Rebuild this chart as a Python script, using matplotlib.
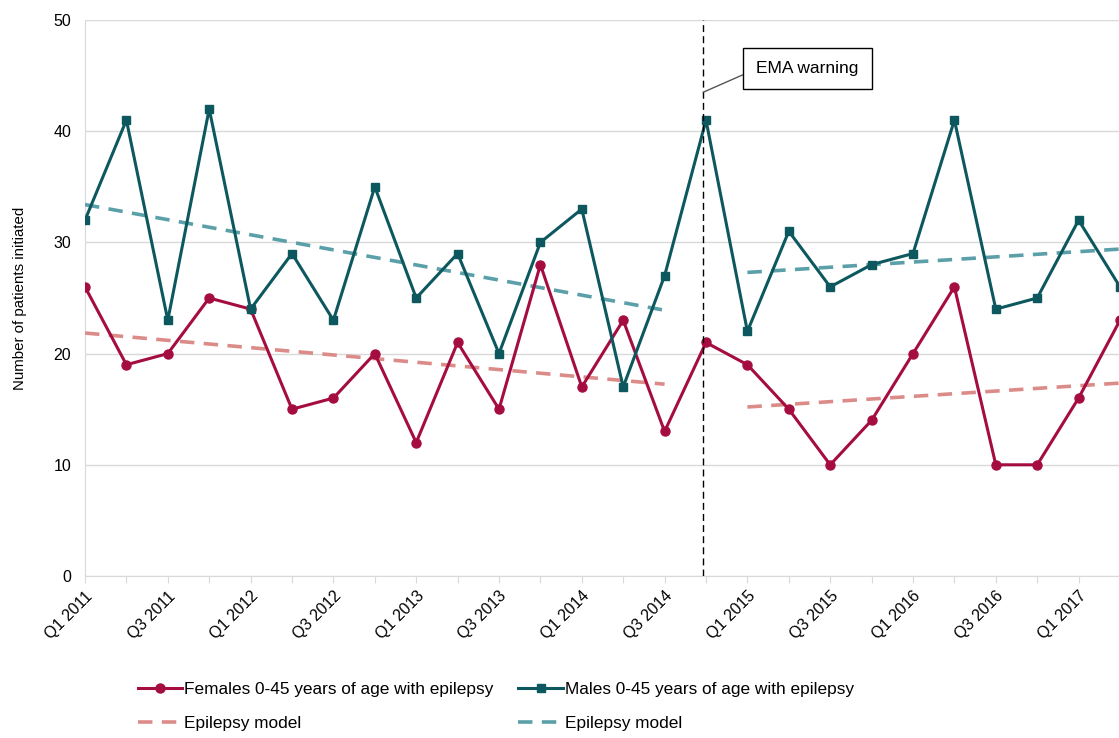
import numpy as np
import matplotlib.pyplot as plt

plt.rcParams['font.family'] = ['Liberation Sans', 'DejaVu Sans']

quarters = ['Q1 2011', 'Q2 2011', 'Q3 2011', 'Q4 2011',
            'Q1 2012', 'Q2 2012', 'Q3 2012', 'Q4 2012',
            'Q1 2013', 'Q2 2013', 'Q3 2013', 'Q4 2013',
            'Q1 2014', 'Q2 2014', 'Q3 2014', 'Q4 2014',
            'Q1 2015', 'Q2 2015', 'Q3 2015', 'Q4 2015',
            'Q1 2016', 'Q2 2016', 'Q3 2016', 'Q4 2016',
            'Q1 2017', 'Q2 2017']
females = [26, 19, 20, 25, 24, 15, 16, 20, 12, 21, 15, 28, 17, 23, 13,
           21, 19, 15, 10, 14, 20, 26, 10, 10, 16, 23]
males = [32, 41, 23, 42, 24, 29, 23, 35, 25, 29, 20, 30, 33, 17, 27,
         41, 22, 31, 26, 28, 29, 41, 24, 25, 32, 26]

# model lines: (start quarter, end quarter) and the values at the ends
model_pre = ['Q1 2011', 'Q3 2014']
model_post = ['Q1 2015', 'Q2 2017']
fem_model_pre = [21.85, 17.25]
fem_model_post = [15.2, 17.35]
male_model_pre = [33.4, 23.9]
male_model_post = [27.3, 29.4]

warning_q = 'Q4 2014'

c_fem = '#A50D40'
c_male = '#0D585E'
c_fem_mod = '#DC8C88'
c_male_mod = '#5BA0A9'
grid_c = '#D9D9D9'

x = np.arange(len(quarters))
pos = {q: i for i, q in enumerate(quarters)}

fig = plt.figure(figsize=(11.19, 7.38), dpi=100)
ax = fig.add_axes([85 / 1119, 162 / 738, 1035 / 1119, 556 / 738])

ax.plot(x, females, color=c_fem, lw=2.2, marker='o', ms=6.5, zorder=4,
        label='Females 0-45 years of age with epilepsy')
ax.plot(x, males, color=c_male, lw=2.2, marker='s', ms=6, zorder=4,
        label='Males 0-45 years of age with epilepsy')

fx = [pos[q] for q in model_pre]
gx = [pos[q] for q in model_post]
ax.plot(fx, fem_model_pre, color=c_fem_mod, lw=2.6, dashes=(4, 2.6), zorder=3,
        label='Epilepsy model')
ax.plot(gx, fem_model_post, color=c_fem_mod, lw=2.6, dashes=(4, 2.6), zorder=3)
ax.plot(fx, male_model_pre, color=c_male_mod, lw=2.6, dashes=(4, 2.6), zorder=3,
        label='Epilepsy model')
ax.plot(gx, male_model_post, color=c_male_mod, lw=2.6, dashes=(4, 2.6), zorder=3)

xv = pos[warning_q] - 0.07
ax.axvline(xv, color='black', lw=1, dashes=(5, 3), zorder=5)
ax.annotate('EMA warning', xy=(xv, 43.5), xytext=(17.45, 45.6),
            fontsize=12.5, ha='center', va='center', zorder=6,
            bbox=dict(boxstyle='square,pad=0.75', fc='white', ec='black', lw=1),
            arrowprops=dict(arrowstyle='-', color='#555555', lw=1,
                            relpos=(0, 0.5), shrinkA=0, shrinkB=0))

ax.set_xlim(0, len(quarters) - 1)
ax.set_ylim(0, 50)
ax.set_yticks(range(0, 51, 10))
ax.set_xticks(x)
ax.set_xticklabels([q if i % 2 == 0 else '' for i, q in enumerate(quarters)],
                   rotation=45, ha='right', rotation_mode='anchor')
ax.tick_params(axis='x', length=5, color=grid_c, labelsize=11.5, pad=4)
ax.tick_params(axis='y', length=0, labelsize=11.5, pad=10)
ax.grid(axis='y', color=grid_c, lw=1)
ax.set_axisbelow(True)
for s in ['top', 'right']:
    ax.spines[s].set_visible(False)
for s in ['left', 'bottom']:
    ax.spines[s].set_color(grid_c)
ax.set_ylabel('Number of patients initiated', fontsize=10.8, labelpad=19)

h, l = ax.get_legend_handles_labels()
order = [0, 2, 1, 3]
fig.legend([h[i] for i in order], [l[i] for i in order], ncol=2,
           loc='upper left', bbox_to_anchor=(122 / 1119, 1 - 666 / 738),
           frameon=False, fontsize=12.4, handlelength=2.6, handletextpad=0.1,
           columnspacing=1.45, labelspacing=1.15)

fig.savefig('out.png', dpi=100)
